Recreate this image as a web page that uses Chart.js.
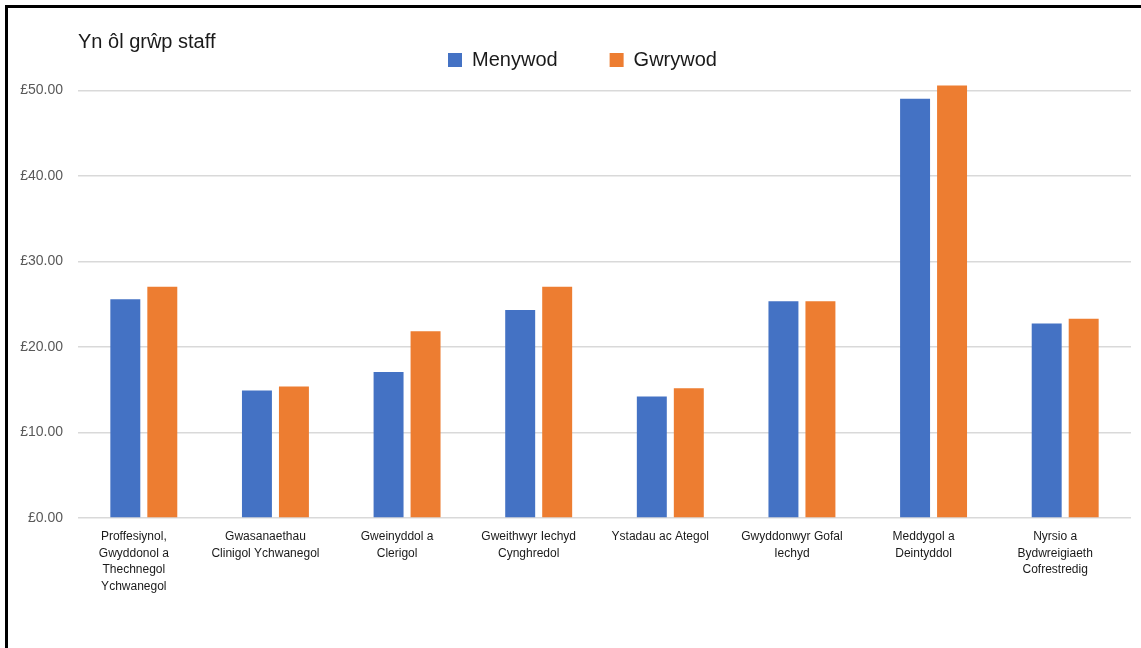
<!DOCTYPE html>
<html>
<head>
<meta charset="utf-8">
<script src="https://cdn.jsdelivr.net/npm/chart.js@4"></script>
<style>
  html, body { margin: 0; padding: 0; background: #fff; overflow: hidden; }
  #wrap { position: relative; width: 1141px; height: 648px; }
  #frame {
    position: absolute; left: 5px; top: 5px; width: 1300px; height: 800px;
    border-left: 3px solid #000; border-top: 3px solid #000; pointer-events: none;
  }
</style>
</head>
<body>
<div id="wrap">
  <canvas id="myChart"></canvas>
  <div id="frame"></div>
</div>
<script>
const categories = [
    ['Proffesiynol,', 'Gwyddonol a', 'Thechnegol', 'Ychwanegol'],
    ['Gwasanaethau', 'Clinigol Ychwanegol'],
    ['Gweinyddol a', 'Clerigol'],
    ['Gweithwyr Iechyd', 'Cynghredol'],
    'Ystadau ac Ategol',
    ['Gwyddonwyr Gofal', 'Iechyd'],
    ['Meddygol a', 'Deintyddol'],
    ['Nyrsio a', 'Bydwreigiaeth', 'Cofrestredig']
];
const menywod = [25.6, 14.9, 17.08, 24.33, 14.2, 25.35, 49.05, 22.74];
const gwrywod = [27.06, 15.37, 21.84, 27.06, 15.17, 25.35, 50.6, 23.32];
const yTicks = [0, 10, 20, 30, 40, 50];

// nudge the legend a little to the right of the canvas centre
const legendNudge = {
    id: 'legendNudge',
    afterLayout(chart) {
        chart.legend.left += 9;
        chart.legend.right += 9;
    }
};

const ctx = document.getElementById('myChart');
new Chart(ctx, {
    type: 'bar',
    data: {
        labels: categories,
        datasets: [{
            label: 'Menywod',
            data: menywod,
            backgroundColor: '#4472C4',
            categoryPercentage: 0.562,
            barPercentage: 0.81
        }, {
            label: 'Gwrywod',
            data: gwrywod,
            backgroundColor: '#ED7D31',
            categoryPercentage: 0.562,
            barPercentage: 0.81
        }]
    },
    plugins: [legendNudge],
    options: {
        responsive: true,
        maintainAspectRatio: false,
        animation: false,
        layout: {
            padding: { left: 16, right: 10, top: 0, bottom: 0 }
        },
        plugins: {
            tooltip: { enabled: false },
            title: {
                display: true,
                text: 'Yn ôl grŵp staff',
                align: 'start',
                fullSize: false,
                color: '#1a1a1a',
                font: { family: 'Liberation Sans, Arial', size: 20, weight: 'normal' },
                padding: { top: 30, bottom: -56 }
            },
            legend: {
                position: 'top',
                labels: {
                    boxWidth: 14,
                    boxHeight: 14,
                    padding: 52,
                    color: '#1a1a1a',
                    font: { family: 'Liberation Sans, Arial', size: 20 }
                }
            }
        },
        scales: {
            x: {
                grid: { display: false, drawTicks: false },
                border: { display: false },
                ticks: {
                    autoSkip: false,
                    maxRotation: 0,
                    padding: 12,
                    labelOffset: -10,
                    color: '#1a1a1a',
                    font: { family: 'Liberation Sans, Arial', size: 12, lineHeight: 1.4 }
                },
                afterFit: (scale) => { scale.height = 130; }
            },
            y: {
                min: 0,
                max: 51,
                grid: { color: '#d9d9d9', lineWidth: 1.5, drawTicks: false },
                border: { display: false },
                ticks: {
                    stepSize: 10,
                    padding: 15,
                    color: '#595959',
                    font: { family: 'Liberation Sans, Arial', size: 14 },
                    callback: (value) => '£' + value.toFixed(2)
                },
                afterBuildTicks: (scale) => {
                    scale.ticks = yTicks.map((v) => ({ value: v }));
                },
                afterFit: (scale) => { scale.width = 62; }
            }
        }
    }
});
</script>
</body>
</html>
